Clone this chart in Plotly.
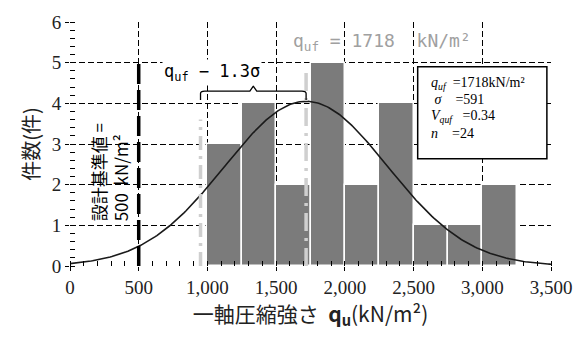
import numpy as np
import plotly.graph_objects as go

# ---- data ----
bin_left = [1000, 1250, 1500, 1750, 2000, 2250, 2500, 2750, 3000]
counts = [3, 4, 2, 5, 2, 4, 1, 1, 2]
bin_width = 250
q_uf = 1718
sigma = 591
V_quf = 0.34
n = 24
design_value = 500
x_ticks = [0, 500, 1000, 1500, 2000, 2500, 3000, 3500]
y_ticks = [0, 1, 2, 3, 4, 5, 6]

centers = [b + bin_width / 2 for b in bin_left]
xs = np.linspace(0, 3500, 300)
ys = n * bin_width * np.exp(-0.5 * ((xs - q_uf) / sigma) ** 2) / (sigma * np.sqrt(2 * np.pi))
lower = q_uf - 1.3 * sigma

SERIF = "Liberation Serif"
JP = "Noto Sans CJK JP"
MONO = "DejaVu Sans Mono"

fig = go.Figure()
fig.add_trace(go.Bar(x=centers, y=counts, width=bin_width,
                     marker=dict(color="#7b7b7b", line=dict(color="white", width=1.5)),
                     showlegend=False))
fig.add_trace(go.Scatter(x=xs, y=ys, mode="lines",
                         line=dict(color="#1a1a1a", width=1.6), showlegend=False))

# vertical lines
fig.add_shape(type="line", x0=design_value, x1=design_value, y0=0, y1=5.08,
              line=dict(color="black", width=3.5, dash="20px,6px"))
fig.add_shape(type="line", x0=lower, x1=lower, y0=0, y1=3.6,
              line=dict(color="#cfcfcf", width=3.5, dash="14px,6px,3px,6px"))
fig.add_shape(type="line", x0=q_uf, x1=q_uf, y0=0, y1=4.8,
              line=dict(color="#cfcfcf", width=3.5, dash="18px,7px,3px,7px"))

# bracket
mid = (lower + q_uf) / 2
yb = 4.3
path = (f"M {lower},{yb-0.22} L {lower},{yb-0.06} Q {lower},{yb} {lower+30},{yb} "
        f"L {mid-25},{yb} L {mid},{yb+0.12} L {mid+25},{yb} "
        f"L {q_uf-30},{yb} Q {q_uf},{yb} {q_uf},{yb-0.06} L {q_uf},{yb-0.22}")
fig.add_shape(type="path", path=path, line=dict(color="black", width=1.3))

# stats box
fig.add_shape(type="rect", x0=2530, x1=3470, y0=2.64, y1=4.9,
              line=dict(color="black", width=1.5), fillcolor="white", layer="above")
stats = [f"<i>q<sub>uf</sub></i>&nbsp;&nbsp;=1718kN/m²",
         f"&nbsp;<i>σ</i>&nbsp;&nbsp;&nbsp;&nbsp;={sigma}",
         f"<i>V<sub>quf</sub></i>&nbsp;&nbsp;&nbsp;={V_quf}",
         f"<i>n</i>&nbsp;&nbsp;&nbsp;&nbsp;={n}"]
for i, s in enumerate(stats):
    fig.add_annotation(x=2610, y=4.5 - i * 0.41, text=s, showarrow=False,
                       xanchor="left", yanchor="middle",
                       font=dict(family=SERIF, size=14, color="black"))

# texts
fig.add_annotation(x=1610, y=5.5, text="q<sub>uf</sub>&nbsp;=&nbsp;1718&nbsp;&nbsp;kN/m²", showarrow=False,
                   xanchor="left", yanchor="middle",
                   font=dict(family=MONO, size=18, color="#a0a0a0"))
fig.add_annotation(x=670, y=4.75, text="q<sub>uf</sub>&nbsp;−&nbsp;1.3σ", showarrow=False,
                   xanchor="left", yanchor="middle", bgcolor="white",
                   font=dict(family=MONO, size=17, color="black"))
fig.add_annotation(x=290, y=2.3, text="設計基準値&nbsp;=<br>500&nbsp;&nbsp;kN/m²", showarrow=False,
                   textangle=-90, xanchor="center", yanchor="middle", align="left",
                   font=dict(family=JP, size=17, color="black"))

axis_common = dict(showline=False, zeroline=False, showgrid=True,
                   gridcolor="black", griddash="6px,3px", gridwidth=1,
                   ticks="outside", ticklen=4, tickcolor="black",
                   tickfont=dict(family=SERIF, size=19, color="#222"))
fig.update_xaxes(range=[0, 3500], tickvals=x_ticks, tickformat=",d",
                 minor=dict(dtick=100, ticks="inside", ticklen=5, tickcolor="black", showgrid=False),
                 title=dict(text="一軸圧縮強さ&nbsp;&nbsp;<b>q<sub>u</sub></b>(kN/m²)",
                            font=dict(family=JP, size=21, color="#222"), standoff=8),
                 **axis_common)
fig.update_yaxes(range=[0, 6], tickvals=y_ticks,
                 minor=dict(dtick=0.2, ticks="inside", ticklen=5, tickcolor="black", showgrid=False),
                 title=dict(text="件数(件)", font=dict(family=JP, size=20, color="#222"), standoff=6),
                 **axis_common)

fig.update_layout(width=584, height=342, margin=dict(l=70, r=22, t=18, b=76),
                  plot_bgcolor="white", paper_bgcolor="white", bargap=0)
fig.write_html("out.html")
